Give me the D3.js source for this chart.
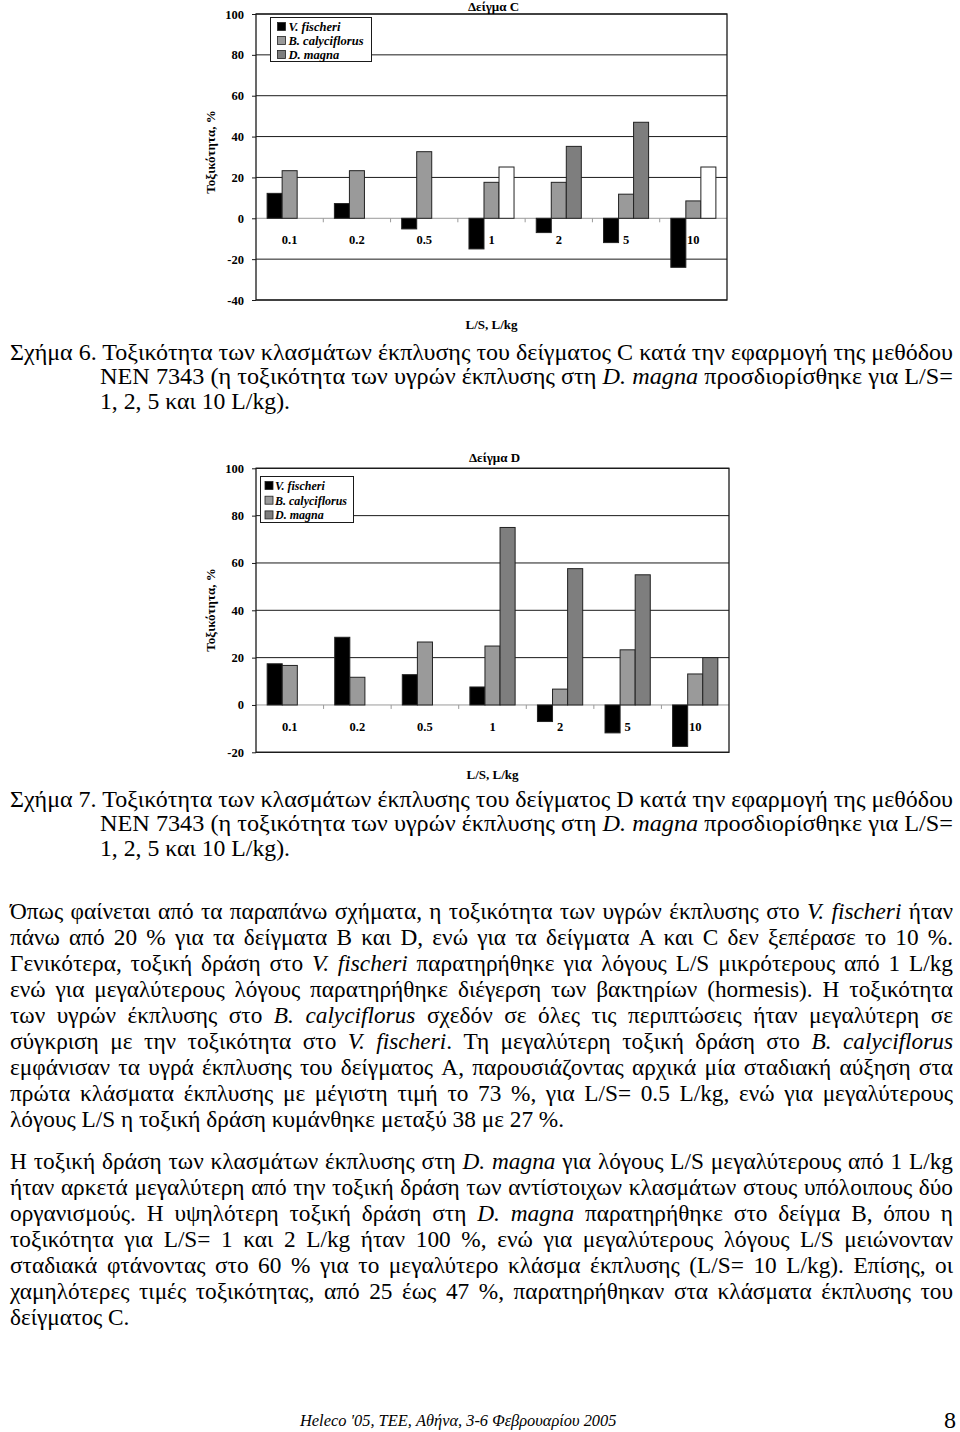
<!DOCTYPE html>
<html><head><meta charset="utf-8">
<script src="https://cdn.jsdelivr.net/npm/d3@7"></script>
<style>
html,body{margin:0;padding:0;background:#fff;}
svg{display:block;}
</style></head><body>
<script>
// ---------------- DATA ----------------
const categories = ["0.1", "0.2", "0.5", "1", "2", "5", "10"];
const seriesNames = ["V. fischeri", "B. calyciflorus", "D. magna"];
const yTicksC = [-40, -20, 0, 20, 40, 60, 80, 100];
const yTicksD = [-20, 0, 20, 40, 60, 80, 100];

// Δείγμα C
const fischeriC     = [12.2, 7.2, -5.2, -15.0, -7.0, -11.9, -24.0];
const calyciflorusC = [23.3, 23.3, 32.6, 17.6, 17.6, 11.8, 8.5];
const magnaC        = [null, null, null, 25.1, 35.2, 47.0, 25.1];

// Δείγμα D
const fischeriD     = [17.4, 28.6, 12.8, 7.6, -7.0, -11.8, -17.5];
const calyciflorusD = [16.7, 11.7, 26.6, 24.9, 6.7, 23.3, 13.1];
const magnaD        = [null, null, null, 75.0, 57.6, 55.0, 20.0];

// style only: D. magna bars drawn hollow (white) in chart C
const magnaHollowC = [false, false, false, true, false, false, true];

// ---------------- TEXT ----------------
const caption6 = [
  "Σχήμα 6. Τοξικότητα των κλασμάτων έκπλυσης του δείγματος C κατά την εφαρμογή της μεθόδου",
  "NEN 7343 (η τοξικότητα των υγρών έκπλυσης στη _D. magna_ προσδιορίσθηκε για L/S=",
  "1, 2, 5 και 10 L/kg)."
];
const caption7 = [
  "Σχήμα 7. Τοξικότητα των κλασμάτων έκπλυσης του δείγματος D κατά την εφαρμογή της μεθόδου",
  "NEN 7343 (η τοξικότητα των υγρών έκπλυσης στη _D. magna_ προσδιορίσθηκε για L/S=",
  "1, 2, 5 και 10 L/kg)."
];
const para1 = [
  "Όπως φαίνεται από τα παραπάνω σχήματα, η τοξικότητα των υγρών έκπλυσης στο _V. fischeri_ ήταν",
  "πάνω από 20 % για τα δείγματα B και D, ενώ για τα δείγματα A και C δεν ξεπέρασε το 10 %.",
  "Γενικότερα, τοξική δράση στο _V. fischeri_ παρατηρήθηκε για λόγους L/S μικρότερους από 1 L/kg",
  "ενώ για μεγαλύτερους λόγους παρατηρήθηκε διέγερση των βακτηρίων (hormesis). Η τοξικότητα",
  "των υγρών έκπλυσης στο _B. calyciflorus_ σχεδόν σε όλες τις περιπτώσεις ήταν μεγαλύτερη σε",
  "σύγκριση με την τοξικότητα στο _V. fischeri_. Τη μεγαλύτερη τοξική δράση στο _B. calyciflorus_",
  "εμφάνισαν τα υγρά έκπλυσης του δείγματος A, παρουσιάζοντας αρχικά μία σταδιακή αύξηση στα",
  "πρώτα κλάσματα έκπλυσης με μέγιστη τιμή το 73 %, για L/S= 0.5 L/kg, ενώ για μεγαλύτερους",
  "λόγους L/S η τοξική δράση κυμάνθηκε μεταξύ 38 με 27 %."
];
const para2 = [
  "Η τοξική δράση των κλασμάτων έκπλυσης στη _D. magna_ για λόγους L/S μεγαλύτερους από 1 L/kg",
  "ήταν αρκετά μεγαλύτερη από την τοξική δράση των αντίστοιχων κλασμάτων στους υπόλοιπους δύο",
  "οργανισμούς. Η υψηλότερη τοξική δράση στη _D. magna_ παρατηρήθηκε στο δείγμα B, όπου η",
  "τοξικότητα για L/S= 1 και 2 L/kg ήταν 100 %, ενώ για μεγαλύτερους λόγους L/S μειώνονταν",
  "σταδιακά φτάνοντας στο 60 % για το μεγαλύτερο κλάσμα έκπλυσης (L/S= 10 L/kg). Επίσης, οι",
  "χαμηλότερες τιμές τοξικότητας, από 25 έως 47 %, παρατηρήθηκαν στα κλάσματα έκπλυσης του",
  "δείγματος C."
];
const footerText = "Heleco '05, TEE, Αθήνα, 3-6 Φεβρουαρίου 2005";
const pageNumber = "8";

// ---------------- DRAW ----------------
const W = 960, H = 1432;
const SERIF = "'Liberation Serif','Times New Roman',serif";
const COLORS = ["#000000", "#9a9a9a", "#7e7e7e"];

const svg = d3.select("body").append("svg").attr("width", W).attr("height", H);
svg.append("rect").attr("width", W).attr("height", H).attr("fill", "#fff");

function drawChart(cfg) {
  const g = svg.append("g");
  const x = d3.scaleBand().domain(categories).range([cfg.left, cfg.right]).padding(0);
  const xs = d3.scaleBand().domain([0, 1, 2]).range([0, x.bandwidth()]).paddingInner(0).paddingOuter(0.74);
  const y = d3.scaleLinear().domain([cfg.ticks[0], cfg.ticks[cfg.ticks.length - 1]]).range([cfg.bottom, cfg.top]);

  // gridlines
  g.selectAll("line.grid").data(cfg.ticks.filter(t => t !== 0)).join("line")
    .attr("x1", cfg.left).attr("x2", cfg.right)
    .attr("y1", d => y(d)).attr("y2", d => y(d))
    .attr("stroke", "#1a1a1a").attr("stroke-width", 1);

  // zero line with category boundary ticks
  g.append("line").attr("x1", cfg.left).attr("x2", cfg.right)
    .attr("y1", y(0)).attr("y2", y(0)).attr("stroke", "#9a9a9a").attr("stroke-width", 1);
  g.selectAll("line.ctick").data(categories.slice(1)).join("line")
    .attr("x1", d => x(d)).attr("x2", d => x(d))
    .attr("y1", y(0)).attr("y2", y(0) + 4)
    .attr("stroke", "#9a9a9a").attr("stroke-width", 1);

  // bars
  const rows = [];
  cfg.series.forEach((vals, si) => {
    vals.forEach((v, ci) => {
      if (v === null) return;
      const hollow = si === 2 && cfg.hollow && cfg.hollow[ci];
      rows.push({ cat: categories[ci], si, v, fill: hollow ? "#ffffff" : COLORS[si] });
    });
  });
  g.selectAll("rect.bar").data(rows).join("rect")
    .attr("x", d => x(d.cat) + xs(d.si))
    .attr("width", xs.bandwidth())
    .attr("y", d => y(Math.max(0, d.v)))
    .attr("height", d => Math.abs(y(d.v) - y(0)))
    .attr("fill", d => d.fill)
    .attr("stroke", "#222").attr("stroke-width", 1);

  // category labels
  g.selectAll("text.cat").data(categories).join("text")
    .attr("x", d => x(d) + x.bandwidth() / 2)
    .attr("y", y(0) + 26)
    .attr("text-anchor", "middle")
    .style("font-family", SERIF).style("font-weight", "bold").style("font-size", "12.5px")
    .text(d => d);

  // frame
  g.append("rect").attr("x", cfg.left).attr("y", cfg.top)
    .attr("width", cfg.right - cfg.left).attr("height", cfg.bottom - cfg.top)
    .attr("fill", "none").attr("stroke", "#1a1a1a").attr("stroke-width", 1.3);

  // y axis
  const ax = g.append("g").attr("transform", `translate(${cfg.left},0)`)
    .call(d3.axisLeft(y).tickValues(cfg.ticks).tickSize(4).tickPadding(8).tickFormat(d => String(d)));
  ax.select(".domain").remove();
  ax.selectAll(".tick line").attr("stroke", "#1a1a1a");
  ax.selectAll(".tick text").style("font-family", SERIF).style("font-weight", "bold")
    .style("font-size", "12.5px").attr("fill", "#000");

  // titles
  const cx = (cfg.left + cfg.right) / 2;
  g.append("text").attr("x", cx + 2).attr("y", cfg.titleY).attr("text-anchor", "middle")
    .style("font-family", SERIF).style("font-weight", "bold").style("font-size", "13px")
    .text(cfg.title);
  g.append("text").attr("x", cx).attr("y", cfg.xTitleY).attr("text-anchor", "middle")
    .style("font-family", SERIF).style("font-weight", "bold").style("font-size", "13px")
    .text("L/S, L/kg");
  g.append("text")
    .attr("transform", `translate(215,${cfg.yTitleY}) rotate(-90)`)
    .attr("text-anchor", "middle")
    .style("font-family", SERIF).style("font-weight", "bold").style("font-size", "13px")
    .text("Τοξικότητα, %");

  // legend
  const L = cfg.legend;
  const lg = g.append("g");
  lg.append("rect").attr("x", L.x).attr("y", L.y).attr("width", L.w).attr("height", L.h)
    .attr("fill", "#fff").attr("stroke", "#1a1a1a").attr("stroke-width", 1);
  const items = lg.selectAll("g.item").data(seriesNames).join("g")
    .attr("transform", (d, i) => `translate(${L.x + L.sw},${L.y + 9 + i * L.step})`);
  items.append("rect").attr("x", 0).attr("y", -4).attr("width", 8).attr("height", 8)
    .attr("fill", (d, i) => COLORS[i]).attr("stroke", "#222").attr("stroke-width", 0.8);
  items.append("text").attr("x", L.tx).attr("y", 4.5)
    .style("font-family", SERIF).style("font-weight", "bold").style("font-style", "italic")
    .style("font-size", L.fs + "px").text(d => d);
}

drawChart({
  left: 256, right: 727, top: 14, bottom: 300, ticks: yTicksC,
  series: [fischeriC, calyciflorusC, magnaC], hollow: magnaHollowC,
  title: "Δείγμα C", titleY: 11, xTitleY: 329, yTitleY: 152,
  legend: { x: 270.5, y: 17.5, w: 101, h: 44, step: 14, sw: 7, tx: 11, fs: 12.5 }
});
drawChart({
  left: 256, right: 729, top: 468.3, bottom: 752.3, ticks: yTicksD,
  series: [fischeriD, calyciflorusD, magnaD], hollow: null,
  title: "Δείγμα D", titleY: 462, xTitleY: 779, yTitleY: 610,
  legend: { x: 260.5, y: 476.5, w: 93, h: 46, step: 14.7, sw: 4.5, tx: 10, fs: 12 }
});

// rich text helper: "_" toggles italics
function richText(str, x, y, size) {
  const t = svg.append("text").attr("x", x).attr("y", y)
    .style("font-family", SERIF).style("font-size", size + "px").attr("fill", "#000");
  str.split("_").forEach((s, i) => {
    if (s) t.append("tspan").text(s).style("font-style", i % 2 ? "italic" : "normal");
  });
  return t;
}

function caption(lines, y0) {
  const widths = [943, 853, 190];
  const xs = [10, 100, 100];
  lines.forEach((ln, i) => {
    const t = richText(ln, xs[i], y0 + i * 24.3, 23);
    t.attr("textLength", widths[i]).attr("lengthAdjust", "spacingAndGlyphs");
  });
}
caption(caption6, 360);
caption(caption7, 807);

function paragraph(lines, y0) {
  lines.forEach((ln, i) => {
    const t = richText(ln, 10, y0 + i * 26, 23.3);
    if (i < lines.length - 1) {
      const len = t.node().getComputedTextLength();
      const n = (ln.match(/ /g) || []).length;
      const target = 943;
      if (n > 0) t.style("word-spacing", ((target - len) / n) + "px");
    }
  });
}
paragraph(para1, 919);
paragraph(para2, 1169);

// footer
svg.append("text").attr("x", 300).attr("y", 1426)
  .style("font-family", SERIF).style("font-style", "italic").style("font-size", "16.4px")
  .text(footerText);
svg.append("text").attr("x", 944).attr("y", 1428)
  .style("font-family", SERIF).style("font-size", "24px")
  .text(pageNumber);
</script>
</body></html>
